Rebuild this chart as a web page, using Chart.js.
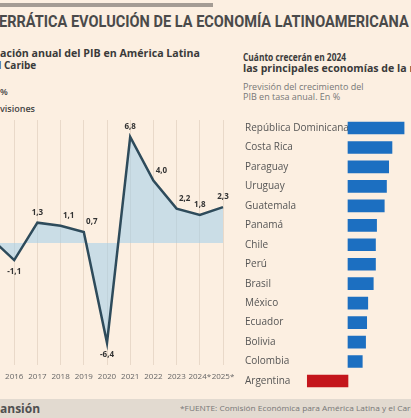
<!DOCTYPE html>
<html><head><meta charset="utf-8">
<script src="https://cdn.jsdelivr.net/npm/chart.js@4"></script>
<style>
html,body{margin:0;padding:0;}
body{width:411px;height:418px;overflow:hidden;position:relative;background:#fcefe1;font-family:"Open Sans",sans-serif;}
.t{position:absolute;white-space:nowrap;line-height:1;transform-origin:0 0;}
.pre{position:absolute;right:100%;top:0;}
#topbar{position:absolute;left:0;top:3px;width:213px;height:4px;background:#a49c94;}
#title{left:-1px;top:13px;font-family:"Liberation Sans Narrow","Roboto",sans-serif;font-weight:bold;font-size:17px;color:#4a4a4a;}
.sub{font-weight:bold;font-size:10px;color:#3a3a3a;}
.note{font-size:9px;color:#444;font-weight:600;}
.rsub{font-size:9px;color:#777;}
#foot{position:absolute;left:0;top:399px;width:411px;height:19px;background:#e2dad0;}
#brand{left:0;top:403px;font-weight:bold;font-size:12px;color:#4f4f4f;}
#src{left:180px;top:405px;font-size:7.5px;color:#777;}
canvas{position:absolute;}
#lineC{left:-21px;top:100px;}
#barC{left:227px;top:100px;}
</style></head>
<body>
<div id="topbar"></div>
<div class="t" id="title"><span class="pre">LA&nbsp;</span>ERRÁTICA EVOLUCIÓN DE LA ECONOMÍA LATINOAMERICANA</div>
<div class="t sub" id="s1" style="left:0;top:48px"><span class="pre">Vari</span>ación anual del PIB en América Latina</div>
<div class="t sub" id="s2" style="left:4px;top:60px"><span class="pre">y el&nbsp;</span>Caribe</div>
<div class="t note" id="s3" style="left:0;top:87px"><span class="pre">En&nbsp;</span>%</div>
<div class="t note" id="s4" style="left:0;top:104px"><span class="pre">*Pre</span>visiones</div>
<div class="t sub" id="r1" style="left:243px;top:52px">Cuánto crecerán en 2024</div>
<div class="t sub" id="r2" style="left:243px;top:63px">las principales economías de la región</div>
<div class="t rsub" id="r3" style="left:243px;top:82px">Previsión del crecimiento del</div>
<div class="t rsub" id="r4" style="left:243px;top:92px">PIB en tasa anual. En %</div>
<div id="foot"></div>
<div class="t" id="brand"><span class="pre">Exp</span>ansión</div>
<div class="t" id="src">*FUENTE: Comisión Económica para América Latina y el Caribe</div>
<canvas id="lineC" width="264" height="300"></canvas>
<canvas id="barC" width="184" height="310"></canvas>
<script>
// ---- data ----
const years = ["2015","2016","2017","2018","2019","2020","2021","2022","2023","2024*","2025*"];
const gdp   = [0.3, -1.1, 1.3, 1.1, 0.7, -6.4, 6.8, 4.0, 2.2, 1.8, 2.3];
const countries = ["República Dominicana","Costa Rica","Paraguay","Uruguay","Guatemala","Panamá","Chile","Perú","Brasil","México","Ecuador","Bolivia","Colombia","Argentina"];
const growth2024 = [5.1, 4.0, 3.7, 3.5, 3.3, 2.6, 2.5, 2.5, 2.3, 1.8, 1.7, 1.6, 1.3, -3.7];

function fit(id, w){
  const el=document.getElementById(id);
  const cw=el.offsetWidth;
  if(cw>0) el.style.transform='scaleX('+(w/cw)+')';
}
fit('title',410);
fit('s1',200);
fit('r1',103);
fit('r2',200);
fit('src',242);

const fmt = v => v.toFixed(1).replace('.',',');

const valueLabels = {
  id:'valueLabels',
  afterDatasetsDraw(chart){
    const ctx=chart.ctx;
    const meta=chart.getDatasetMeta(0);
    ctx.save();
    ctx.font='bold 8px "Open Sans", sans-serif';
    ctx.fillStyle='#333';
    ctx.textAlign='center';
    meta.data.forEach((pt,i)=>{
      const v=gdp[i];
      let dx=0;
      if(i>0 && i<gdp.length-1 && gdp[i-1]>v && gdp[i+1]<v) dx=8;
      if(v>=0){ctx.textBaseline='bottom'; ctx.fillText(fmt(v), pt.x+dx, pt.y-6);}
      else {ctx.textBaseline='top'; ctx.fillText(fmt(v), pt.x, pt.y+8);}
    });
    ctx.restore();
  }
};

new Chart(document.getElementById('lineC'),{
  type:'line',
  data:{labels:years,datasets:[{
    data:gdp,
    borderColor:'#2e4b5b',
    borderWidth:2.5,
    backgroundColor:'rgba(160,205,235,0.55)',
    fill:'origin',
    pointRadius:0,
    tension:0
  }]},
  options:{
    responsive:false,animation:false,devicePixelRatio:1,
    layout:{padding:{left:12,right:20,top:20,bottom:11.4}},
    plugins:{legend:{display:false},tooltip:{enabled:false}},
    scales:{
      x:{offset:false,
         grid:{color:'rgba(205,185,165,0.4)',drawTicks:false},
         border:{display:false},
         ticks:{maxRotation:0,autoSkip:false,padding:7,color:'#666',font:{size:8,family:'"Open Sans", sans-serif'},
                callback:(v,i)=> i===0?'':years[i]}},
      y:{display:false,min:-7.82,max:7.88}
    }
  },
  plugins:[valueLabels]
});

new Chart(document.getElementById('barC'),{
  type:'bar',
  data:{labels:countries,datasets:[{
    data:growth2024,
    backgroundColor:growth2024.map(v=>v<0?'#c4161c':'#1c6fc1'),
    barThickness:12
  }]},
  options:{
    indexAxis:'y',
    responsive:false,animation:false,devicePixelRatio:1,
    layout:{padding:{left:6,right:0,top:18.3,bottom:19.3}},
    plugins:{legend:{display:false},tooltip:{enabled:false}},
    scales:{
      x:{display:false,min:-9.73,max:5.73},
      y:{grid:{display:false,drawTicks:false,tickLength:0},border:{display:false},
         ticks:{mirror:true,padding:4,color:'#555',font:{size:10,family:'"Open Sans", sans-serif'}}}
    }
  }
});
</script>
</body></html>
